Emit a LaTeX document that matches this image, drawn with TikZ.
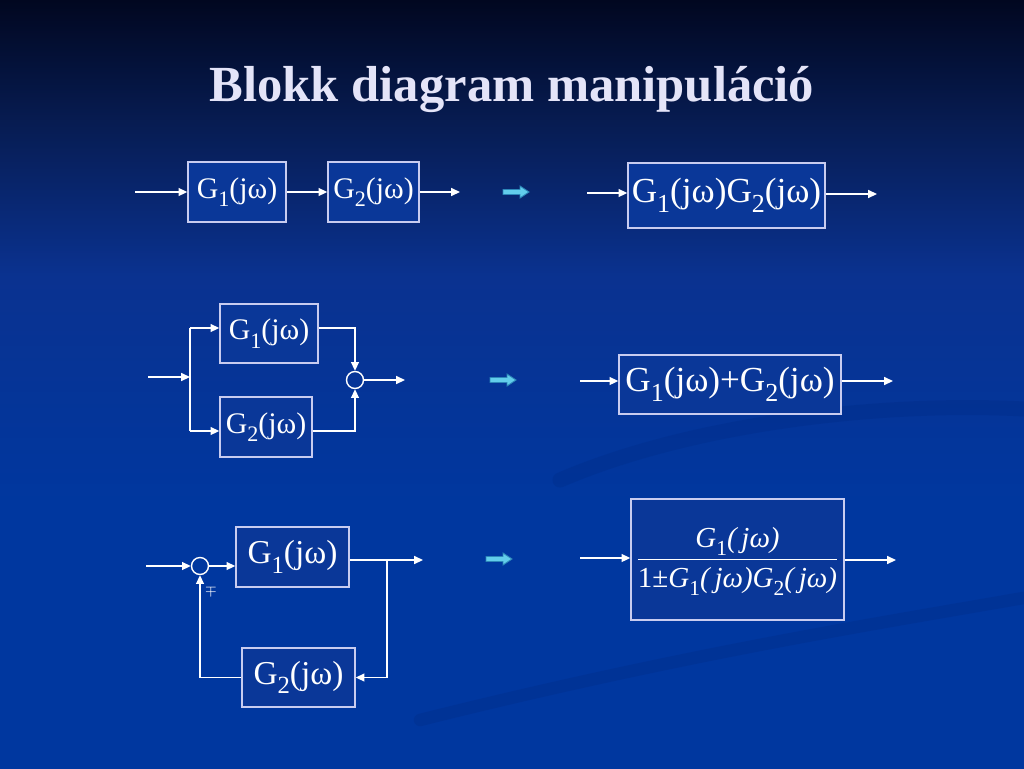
\documentclass[tikz,border=0pt]{standalone}
\usepackage{fontspec}
\setmainfont{Liberation Serif}
\usetikzlibrary{positioning, arrows.meta}
\definecolor{fondoa}{HTML}{010720}
\definecolor{fondob}{HTML}{071C52}
\definecolor{fondoc}{HTML}{0A3290}
\definecolor{fondod}{HTML}{00379F}
\definecolor{caja}{HTML}{0A3798}
\definecolor{borde}{HTML}{C8CCF0}
\definecolor{titulo}{HTML}{E4E4F8}
\definecolor{remolino}{HTML}{002A84}
\definecolor{flechacyan}{HTML}{62CDEB}
\definecolor{flechaborde}{HTML}{2C86B8}
\pgfdeclareverticalshading{fondoslide}{100bp}{color(0bp)=(fondod); color(42bp)=(fondod); color(57bp)=(fondoc); color(67bp)=(fondob); color(75bp)=(fondoa); color(100bp)=(fondoa)}
\newcommand{\lo}[1]{\raisebox{-0.28em}{\scalebox{0.74}{#1}}}
\newcommand{\fsA}{\fontsize{17}{20}\selectfont}
\newcommand{\fsB}{\fontsize{20}{24}\selectfont}
\newcommand{\fsR}{\fontsize{19}{23}\selectfont}
\newcommand{\fsC}{\fontsize{16.5}{22}\selectfont}
\setlength{\arrayrulewidth}{0.8pt}

\begin{document}
\begin{tikzpicture}[x=0.02cm, y=-0.02cm,
    bloque/.style={draw=borde, fill=caja, line width=0.8pt, inner sep=0pt, text=white},
    suma/.style={circle, draw=white, line width=0.8pt, minimum size=0.34cm, inner sep=0pt},
    senal/.style={draw=white, line width=0.8pt, -{Triangle[length=5pt,width=4.5pt]}},
    linea/.style={draw=white, line width=0.8pt},
    flecha/.style={draw=flechaborde, fill=flechacyan, line width=0.5pt}]
    % Fondo
    \shade[shading=fondoslide] (0,0) rectangle (1024,768);
    \useasboundingbox (0,0) rectangle (1024,768);
    \draw[remolino, opacity=0.3, line width=0.3cm, line cap=round] (560,480) .. controls (700,420) and (900,400) .. (1040,410);
    \draw[remolino, opacity=0.3, line width=0.25cm, line cap=round] (420,720) .. controls (700,650) and (900,620) .. (1040,595);
    \node[anchor=base, text=titulo, font=\fontsize{28.8}{34}\selectfont\bfseries] (titulo) at (512,101) {Blokk diagram manipuláció};

    %######## Serie #############
    \node[bloque, minimum width=1.96cm, minimum height=1.2cm, font=\fsA] (g1s) at (237,192) {G\lo{1}(jω)};
    \node[bloque, minimum width=1.82cm, minimum height=1.2cm, font=\fsA] (g2s) at (373.5,192) {G\lo{2}(jω)};
    \coordinate (ens) at (135,192);
    \coordinate (sals) at (460,192);
    \draw[senal] (ens) -- (g1s);
    \draw[senal] (g1s) -- (g2s);
    \draw[senal] (g2s) -- (sals);
    \draw[flecha, shift={(503,192)}] (0,-2.5) -- (17,-2.5) -- (17,-6) -- (26,0) -- (17,6) -- (17,2.5) -- (0,2.5) -- cycle;
    % Equivalente
    \node[bloque, minimum width=3.94cm, minimum height=1.3cm, font=\fsB] (g12s) at (726.5,195.5) {G\lo{1}(jω)G\lo{2}(jω)};
    \coordinate (ens2) at (587,193);
    \coordinate (sals2) at (877,194);
    \draw[senal] (ens2) -- (ens2 -| g12s.west);
    \draw[senal] (g12s.east |- sals2) -- (sals2);

    %######## Paralelo #############
    \node[bloque, minimum width=1.96cm, minimum height=1.18cm, font=\fsA] (g1p) at (269,333.5) {G\lo{1}(jω)};
    \node[bloque, minimum width=1.84cm, minimum height=1.2cm, font=\fsA] (g2p) at (266,427) {G\lo{2}(jω)};
    \node[suma] (sp) at (355,380) {};
    \coordinate (enp) at (148,377);
    \coordinate (ramp) at (190,377);
    \coordinate (ramt) at (190,328);
    \coordinate (ramb) at (190,431);
    \coordinate (salp) at (405,380);
    \draw[senal] (enp) -- (ramp);
    \draw[linea] (ramt) -- (ramb);
    \draw[senal] (ramt) -- (ramt -| g1p.west);
    \draw[senal] (ramb) -- (ramb -| g2p.west);
    \draw[senal] (g1p.east |- ramt) -| (sp.north);
    \draw[senal] (g2p.east |- ramb) -| (sp.south);
    \draw[senal] (sp) -- (salp);
    \draw[flecha, shift={(490,380)}] (0,-2.5) -- (17,-2.5) -- (17,-6) -- (26,0) -- (17,6) -- (17,2.5) -- (0,2.5) -- cycle;
    % Equivalente
    \node[bloque, minimum width=4.44cm, minimum height=1.18cm, font=\fsB] (g12p) at (730,384.5) {G\lo{1}(jω)+G\lo{2}(jω)};
    \coordinate (enp2) at (580,381);
    \coordinate (salp2) at (893,381);
    \draw[senal] (enp2) -- (enp2 -| g12p.west);
    \draw[senal] (g12p.east |- salp2) -- (salp2);

    %######## Realimentacion #############
    \node[suma] (sr) at (200,566) {};
    \node[bloque, minimum width=2.26cm, minimum height=1.2cm, font=\fsR] (g1r) at (292.5,557) {G\lo{1}(jω)};
    \node[bloque, minimum width=2.26cm, minimum height=1.18cm, font=\fsR] (g2r) at (298.5,677.5) {G\lo{2}(jω)};
    \coordinate (enr) at (146,566);
    \coordinate (tomr) at (387,560);
    \coordinate (salr) at (423,560);
    \draw[senal] (enr) -- (sr);
    \draw[senal] (sr) -- (sr -| g1r.west);
    \draw[senal] (g1r.east |- salr) -- (salr);
    \draw[senal] (tomr) |- (g2r.east);
    \draw[senal] (g2r.west) -| (sr.south);
    \node[text=white, font=\footnotesize] (signo) at (211,591) {$\mp$};
    \draw[flecha, shift={(486,559)}] (0,-2.5) -- (17,-2.5) -- (17,-6) -- (26,0) -- (17,6) -- (17,2.5) -- (0,2.5) -- cycle;
    % Equivalente
    \node[bloque, minimum width=4.26cm, minimum height=2.42cm, font=\fsC] (g12r) at (737.5,559.5)
        {\begin{tabular}{@{}c@{}}\itshape G\lo{\upshape 1}(\,jω)\\ \hline 1±\itshape G\lo{\upshape 1}(\,jω)G\lo{\upshape 2}(\,jω)\end{tabular}};
    \coordinate (enr2) at (580,558);
    \coordinate (salr2) at (896,560);
    \draw[senal] (enr2) -- (enr2 -| g12r.west);
    \draw[senal] (g12r.east |- salr2) -- (salr2);
\end{tikzpicture}
\end{document}
